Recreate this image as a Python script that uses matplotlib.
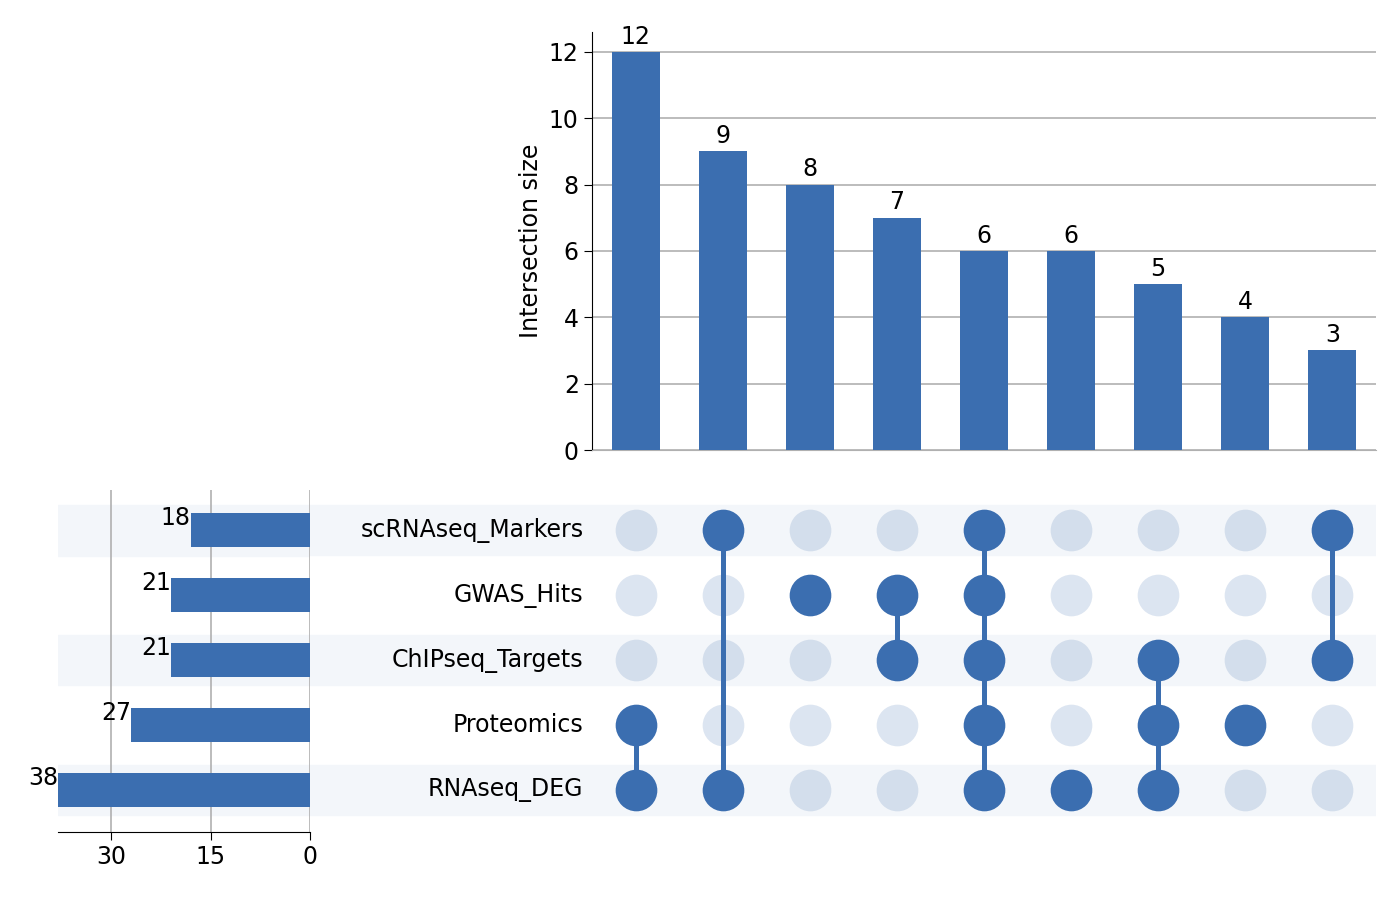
import matplotlib
matplotlib.use("Agg")
import matplotlib.pyplot as plt

sets = ["RNAseq_DEG", "Proteomics", "ChIPseq_Targets", "GWAS_Hits", "scRNAseq_Markers"]
set_sizes = [38, 27, 21, 21, 18]
intersections = [
    ["Proteomics", "RNAseq_DEG"],
    ["scRNAseq_Markers", "RNAseq_DEG"],
    ["GWAS_Hits"],
    ["GWAS_Hits", "ChIPseq_Targets"],
    ["scRNAseq_Markers", "GWAS_Hits", "ChIPseq_Targets", "Proteomics", "RNAseq_DEG"],
    ["RNAseq_DEG"],
    ["ChIPseq_Targets", "Proteomics", "RNAseq_DEG"],
    ["Proteomics"],
    ["scRNAseq_Markers", "ChIPseq_Targets"],
]
counts = [12, 9, 8, 7, 6, 6, 5, 4, 3]

C = "#3b6eb0"
W, H = 1395, 900
fs = 17
fig = plt.figure(figsize=(W/100, H/100), dpi=100)

def ax_px(l, t, r, b):
    return fig.add_axes([l/W, 1-b/H, (r-l)/W, (b-t)/H])

n = len(counts)
# bar axes
axb = ax_px(592, 32, 1376, 450)
xs = list(range(n))
axb.bar(xs, counts, width=0.55, color=C, zorder=3)
for x, c in zip(xs, counts):
    axb.text(x, c + 0.1, str(c), ha="center", va="bottom", fontsize=fs)
axb.set_xlim(-0.5, n - 0.5)
axb.set_ylim(0, 12.6)
axb.set_yticks(range(0, 13, 2))
axb.tick_params(axis="y", labelsize=fs, length=6)
axb.set_xticks([])
axb.grid(axis="y", color="#b0b0b0", lw=1.2, zorder=0)
for s in ["top", "right"]:
    axb.spines[s].set_visible(False)
axb.spines["bottom"].set_color("#b0b0b0")
axb.set_ylabel("Intersection size", fontsize=fs)

ymin, ymax = -0.646, 4.51
# matrix axes
col_px = 87.1
xl = -0.5 - (592 - 310) / col_px
axm = ax_px(310, 497, 1376, 832)
axm.set_xlim(xl, n - 0.5)
axm.set_ylim(ymin, ymax)
axm.axis("off")
for i in range(len(sets)):
    if i % 2 == 0:
        axm.axhspan(i - 0.39, i + 0.39, color="#f3f6fa", zorder=0)
    axm.text(-0.6, i, sets[i], ha="right", va="center", fontsize=fs)
for x, members in enumerate(intersections):
    ys = [sets.index(m) for m in members]
    for i in range(len(sets)):
        if i not in ys:
            axm.scatter(x, i, s=900, color=("#d3deec" if i % 2 == 0 else "#dce5f1"), zorder=1, lw=0)
    if len(ys) > 1:
        axm.plot([x, x], [min(ys), max(ys)], color=C, lw=3.6, zorder=2)
    axm.scatter([x]*len(ys), ys, s=900, color=C, zorder=3, lw=0)

# set size axes
axs = ax_px(58, 490, 310, 832)
ys = list(range(len(sets)))
for i in ys:
    if i % 2 == 0:
        axs.axhspan(i - 0.39, i + 0.39, color="#f3f6fa", zorder=0)
axs.barh(ys, set_sizes, height=0.52, color=C, zorder=3)
for y, v in zip(ys, set_sizes):
    axs.text(v, y, str(v), ha="right", va="bottom", fontsize=fs, zorder=4)
axs.set_xlim(38, 0)
axs.set_ylim(ymin, 4.62)
axs.set_xticks([30, 15, 0])
axs.tick_params(axis="x", labelsize=fs, length=6)
axs.set_yticks([])
axs.grid(axis="x", color="#b0b0b0", lw=1.2, zorder=1)
for s in ["top", "right", "left"]:
    axs.spines[s].set_visible(False)

fig.savefig("out.png", dpi=100)
